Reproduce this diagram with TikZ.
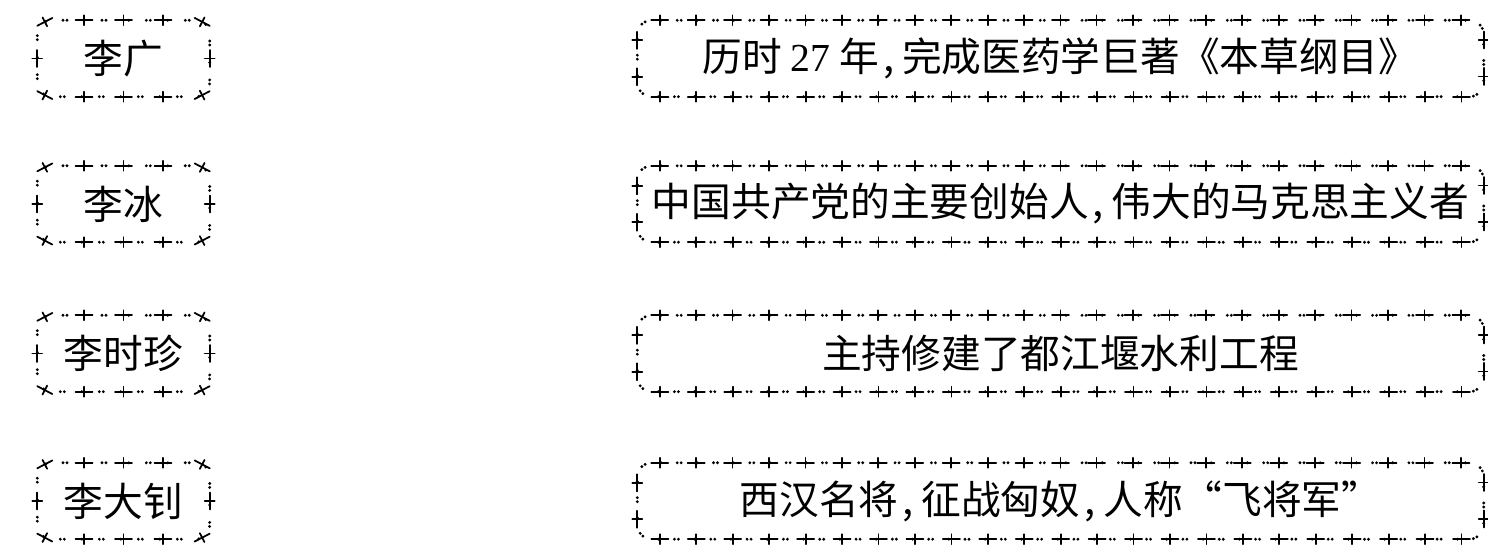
\documentclass[tikz,border=0pt]{standalone}
\usepackage{fontspec}
\setmainfont{Liberation Serif}
\newfontfamily\cjk{Noto Sans CJK SC}
\usetikzlibrary{decorations.markings}

\newcommand{\borderstar}{%
  \draw[line width=0.5pt, solid] (-0.085,0) -- (0.085,0);
  \draw[line width=0.5pt, solid] (0,-0.05) -- (0,0.05);
}
\newcommand{\cm}{\hspace{0.1em},\hspace{0.2em}}

\begin{document}
\begin{tikzpicture}[
      frame/.style={minimum height=0.75cm, inner sep=0pt,
        font=\cjk\fontsize{11.3}{13}\selectfont},
      namebox/.style={frame, minimum width=1.71cm},
      factbox/.style={frame, minimum width=8.45cm},
      starframe/.style 2 args={draw, line width=0.9pt, line cap=round,
        dash pattern=on 0pt off #2 on 0pt off 0.04cm on 0pt off #2,
        postaction={decorate,
          decoration={markings, mark=between positions 0 and 0.995 step #1 with {\borderstar}}}}
    ]
    \useasboundingbox (0,0) rectangle (14.88,-5.55);

    \node[namebox] (li1) at (1.235,-0.585) {李广};
    \node[namebox] (li2) at (1.235,-2.04) {李冰};
    \node[namebox] (li3) at (1.235,-3.535) {李时珍};
    \node[namebox] (li4) at (1.235,-5.01) {李大钊};

    \node[factbox] (fact1) at (10.605,-0.585) {历时 {\rmfamily 27} 年\cm 完成医药学巨著《本草纲目》};
    \node[factbox] (fact2) at (10.605,-2.04) {中国共产党的主要创始人\cm 伟大的马克思主义者};
    \node[factbox] (fact3) at (10.605,-3.535) {主持修建了都江堰水利工程};
    \node[factbox] (fact4) at (10.605,-5.01) {西汉名将\cm 征战匈奴\cm 人称“飞将军”};

    % decorative borders, started at the top middle
    \foreach \b/\s/\g in {li1/0.083333/0.17499cm, li2/0.083333/0.17499cm,
                          li3/0.083333/0.17499cm, li4/0.083333/0.17499cm,
                          fact1/0.02/0.161595cm, fact2/0.02/0.161595cm,
                          fact3/0.02/0.161595cm, fact4/0.02/0.161595cm}
      \path[starframe={\s}{\g}] (\b.north) -- ([xshift=0.14cm]\b.north west)
        arc (90:180:0.14cm) -- ([yshift=0.14cm]\b.south west)
        arc (180:270:0.14cm) -- ([xshift=-0.14cm]\b.south east)
        arc (270:360:0.14cm) -- ([yshift=-0.14cm]\b.north east)
        arc (0:90:0.14cm) -- cycle;
  \end{tikzpicture}
\end{document}
